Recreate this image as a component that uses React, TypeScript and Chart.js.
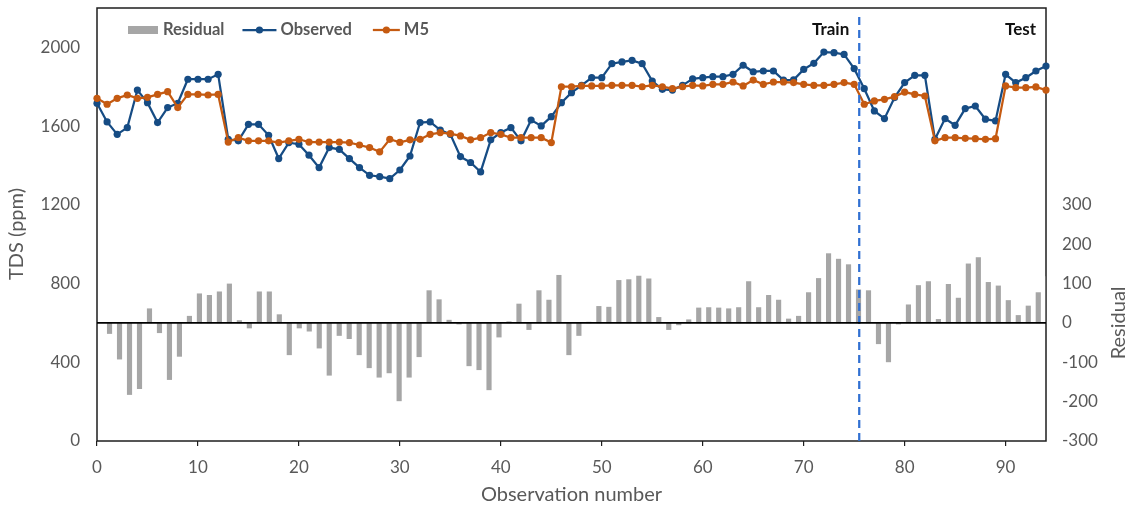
import React, { useEffect, useRef } from 'react';
import { Chart, registerables } from 'chart.js';

Chart.register(...registerables);

// ---------------- data ----------------
const observed = [
  1716, 1621, 1558, 1592, 1783, 1719, 1618, 1694, 1716, 1838,
  1838, 1838, 1863, 1533, 1525, 1609, 1609, 1553, 1435, 1516,
  1508, 1452, 1389, 1491, 1482, 1435, 1389, 1350, 1343, 1333,
  1377, 1448, 1618, 1621, 1580, 1558, 1445, 1415, 1367, 1530,
  1567, 1592, 1525, 1631, 1601, 1648, 1719, 1770, 1807, 1846,
  1846, 1917, 1926, 1934, 1917, 1829, 1787, 1783, 1807, 1840,
  1846, 1851, 1851, 1863, 1909, 1876, 1880, 1880, 1834, 1835,
  1888, 1919, 1976, 1973, 1964, 1892, 1790, 1677, 1638, 1745,
  1821, 1858, 1858, 1533, 1638, 1604, 1689, 1702, 1635, 1626,
  1863, 1821, 1846, 1880, 1905,
];

const m5 = [
  1741, 1711, 1741, 1758, 1741, 1746, 1761, 1775, 1694, 1761,
  1761, 1758, 1761, 1519, 1541, 1525, 1525, 1525, 1516, 1525,
  1533, 1519, 1519, 1519, 1519, 1516, 1504, 1491, 1469, 1533,
  1517, 1530, 1533, 1558, 1567, 1562, 1550, 1530, 1541, 1567,
  1558, 1541, 1541, 1541, 1541, 1516, 1800, 1800, 1804, 1804,
  1804, 1807, 1807, 1807, 1800, 1807, 1800, 1790, 1800, 1807,
  1804, 1812, 1812, 1824, 1804, 1834, 1812, 1824, 1824, 1821,
  1812, 1807, 1807, 1812, 1821, 1812, 1711, 1728, 1736, 1750,
  1773, 1761, 1753, 1525, 1541, 1541, 1538, 1536, 1533, 1536,
  1804, 1795, 1795, 1799, 1783,
];

const residual = [
  -27, -92, -182, -167, 36, -25, -144, -85, 17, 74,
  70, 79, 99, 6, -13, 79, 79, 21, -81, -13,
  -21, -64, -133, -32, -40, -81, -114, -138, -127, -198,
  -138, -86, 82, 59, 7, -3, -109, -119, -170, -36,
  3, 48, -17, 82, 58, 121, -81, -32, 2, 42,
  40, 108, 110, 119, 112, 14, -17, -5, 8, 38,
  39, 38, 36, 39, 105, 39, 70, 58, 10, 17,
  77, 113, 176, 162, 148, 84, 82, -53, -99, -3,
  46, 95, 105, 9, 98, 63, 150, 166, 103, 94,
  57, 19, 43, 77, 118,
];

const xTicks = [0, 10, 20, 30, 40, 50, 60, 70, 80, 90];
const leftTicks = [0, 400, 800, 1200, 1600, 2000];
const rightTicks = [-300, -200, -100, 0, 100, 200, 300];

const X_MAX = 94;
const BAR_AXIS_MIN = -1.03; // residual columns sit on their own (hidden) axis
const LEFT_MAX = 2200;
const RIGHT_MIN = -300;
const RIGHT_MAX = 800;
const SPLIT = 75.5;
const SPLIT_TOP = 2170;

// ---------------- styles ----------------
const BLUE = '#164C84';
const ORANGE = '#C55A11';
const GRAY = '#A6A6A6';
const SPLIT_COLOR = '#3170D2';
const TEXT = '#595959';
const AXIS = '#1E1E1E';
const FONT = 'Lato, "Open Sans", sans-serif';

const zeroPadding = (s: any) => {
  s.paddingTop = 0;
  s.paddingBottom = 0;
  s.paddingLeft = 0;
  s.paddingRight = 0;
};

const decorations = {
  id: 'decorations',
  beforeDatasetsDraw(chart: any) {
    const { ctx, chartArea: a } = chart;
    ctx.save();
    ctx.strokeStyle = AXIS;
    ctx.lineWidth = 1.5;
    ctx.strokeRect(a.left, a.top, a.right - a.left, a.bottom - a.top);
    ctx.restore();
  },
  afterDatasetsDraw(chart: any) {
    const { ctx, chartArea: a, scales } = chart;
    const y0 = scales.y2.getPixelForValue(0);
    ctx.save();
    ctx.strokeStyle = '#000';
    ctx.lineWidth = 1.6;
    ctx.beginPath();
    ctx.moveTo(a.left, y0);
    ctx.lineTo(a.right, y0);
    ctx.stroke();
    ctx.restore();
  },
  afterDraw(chart: any) {
    const { ctx, chartArea: a, scales } = chart;
    ctx.save();

    // legend inside the plot
    const ly = a.top + 22;
    ctx.font = `bold 16.5px ${FONT}`;
    ctx.textBaseline = 'middle';
    ctx.textAlign = 'left';
    let x = a.left + 31;
    ctx.fillStyle = GRAY;
    ctx.fillRect(x, ly - 4, 30, 8);
    x += 35;
    ctx.fillStyle = TEXT;
    ctx.fillText('Residual', x, ly);
    x += ctx.measureText('Residual').width + 18;
    const drawLineKey = (color: string, len: number) => {
      ctx.strokeStyle = color;
      ctx.lineWidth = 2.25;
      ctx.beginPath();
      ctx.moveTo(x, ly);
      ctx.lineTo(x + len, ly);
      ctx.stroke();
      ctx.fillStyle = color;
      ctx.beginPath();
      ctx.arc(x + len / 2, ly, 3.6, 0, Math.PI * 2);
      ctx.fill();
      x += len + 4;
    };
    drawLineKey(BLUE, 34);
    ctx.fillStyle = TEXT;
    ctx.fillText('Observed', x, ly);
    x += ctx.measureText('Observed').width + 21;
    drawLineKey(ORANGE, 27);
    ctx.fillStyle = TEXT;
    ctx.fillText('M5', x, ly);

    // Train / Test labels
    ctx.font = `bold 17px ${FONT}`;
    ctx.fillStyle = '#111';
    ctx.textAlign = 'right';
    ctx.fillText('Train', scales.x.getPixelForValue(SPLIT) - 10, ly);
    ctx.fillText('Test', a.right - 10, ly);

    // axis titles
    ctx.font = `20px ${FONT}`;
    ctx.fillStyle = TEXT;
    ctx.textAlign = 'center';
    ctx.fillText('Observation number', (a.left + a.right) / 2, 495);

    ctx.save();
    ctx.translate(17, 234);
    ctx.rotate(-Math.PI / 2);
    ctx.fillText('TDS (ppm)', 0, 0);
    ctx.restore();

    ctx.save();
    ctx.translate(1119, scales.y2.getPixelForValue(0));
    ctx.rotate(-Math.PI / 2);
    ctx.fillText('Residual', 0, 0);
    ctx.restore();

    ctx.restore();
  },
};

export default function App() {
  const ref = useRef<HTMLCanvasElement>(null);

  useEffect(() => {
    const canvas = ref.current;
    if (!canvas) return;
    Chart.defaults.font.family = FONT;

    const tickFont = { family: FONT, size: 17 };

    const chart = new Chart(canvas, {
      type: 'line',
      data: {
        datasets: [
          {
            label: 'split',
            data: [
              { x: SPLIT, y: 0 },
              { x: SPLIT, y: SPLIT_TOP },
            ],
            borderColor: SPLIT_COLOR,
            borderWidth: 2.25,
            borderDash: [8, 5],
            pointRadius: 0,
            xAxisID: 'x',
            yAxisID: 'y',
            order: -1,
            clip: false,
          } as any,
          {
            label: 'M5',
            data: m5.map((v, i) => ({ x: i, y: v })),
            borderColor: ORANGE,
            backgroundColor: ORANGE,
            pointBackgroundColor: ORANGE,
            pointBorderWidth: 0,
            pointRadius: 3.6,
            borderWidth: 2.25,
            tension: 0,
            xAxisID: 'x',
            yAxisID: 'y',
            order: 0,
            clip: false,
          } as any,
          {
            label: 'Observed',
            data: observed.map((v, i) => ({ x: i, y: v })),
            borderColor: BLUE,
            backgroundColor: BLUE,
            pointBackgroundColor: BLUE,
            pointBorderWidth: 0,
            pointRadius: 3.6,
            borderWidth: 2.25,
            tension: 0,
            xAxisID: 'x',
            yAxisID: 'y',
            order: 1,
            clip: false,
          } as any,
          {
            type: 'bar',
            label: 'Residual',
            data: residual.map((v, i) => ({ x: i, y: v })),
            backgroundColor: GRAY,
            borderWidth: 0,
            barThickness: 4.5,
            xAxisID: 'x2',
            yAxisID: 'y2',
            order: 2,
          } as any,
        ],
      },
      options: {
        responsive: false,
        animation: false,
        devicePixelRatio: 1,
        layout: { padding: { top: 8, left: 0, right: 0, bottom: 0 } },
        plugins: {
          legend: { display: false },
          tooltip: { enabled: false },
        },
        scales: {
          x: {
            type: 'linear',
            position: 'bottom',
            min: 0,
            max: X_MAX,
            offset: false,
            afterBuildTicks: (s: any) => {
              s.ticks = xTicks.map((v) => ({ value: v }));
            },
            afterFit: (s: any) => {
              s.height = 70;
              zeroPadding(s);
            },
            ticks: {
              font: tickFont,
              color: TEXT,
              padding: 11,
              maxRotation: 0,
              autoSkip: false,
              callback: (v: any) => String(v),
            },
            grid: {
              display: true,
              drawOnChartArea: false,
              drawTicks: true,
              tickLength: 5,
              color: AXIS,
              lineWidth: 1.2,
            },
            border: { display: false },
          },
          x2: {
            type: 'linear',
            display: false,
            min: BAR_AXIS_MIN,
            max: X_MAX,
            offset: false,
          },
          y: {
            type: 'linear',
            position: 'left',
            min: 0,
            max: LEFT_MAX,
            afterBuildTicks: (s: any) => {
              s.ticks = leftTicks.map((v) => ({ value: v }));
            },
            afterFit: (s: any) => {
              s.width = 97;
              zeroPadding(s);
            },
            ticks: {
              font: tickFont,
              color: TEXT,
              padding: 17,
              callback: (v: any) => String(v),
            },
            grid: { display: false, drawTicks: false },
            border: { display: false },
          },
          y2: {
            type: 'linear',
            position: 'right',
            min: RIGHT_MIN,
            max: RIGHT_MAX,
            afterBuildTicks: (s: any) => {
              s.ticks = rightTicks.map((v) => ({ value: v }));
            },
            afterFit: (s: any) => {
              s.width = 83;
              zeroPadding(s);
            },
            ticks: {
              font: tickFont,
              color: TEXT,
              padding: 16,
              callback: (v: any) => String(v),
            },
            grid: { display: false, drawTicks: false },
            border: { display: false },
          },
        },
      } as any,
      plugins: [decorations],
    });

    return () => chart.destroy();
  }, []);

  return (
    <div style={{ position: 'absolute', left: 0, top: 0, width: 1129, height: 511, background: '#fff' }}>
      <canvas ref={ref} width={1129} height={511} style={{ display: 'block', width: 1129, height: 511 }} />
    </div>
  );
}
